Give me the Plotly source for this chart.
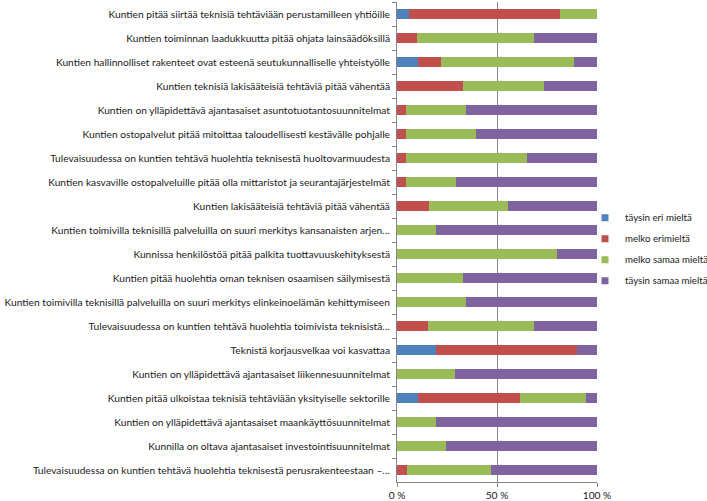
import plotly.graph_objects as go

categories = [
    "Kuntien pitää siirtää teknisiä tehtäviään perustamilleen yhtiöille",
    "Kuntien toiminnan laadukkuutta pitää ohjata lainsäädöksillä",
    "Kuntien hallinnolliset rakenteet ovat esteenä seutukunnalliselle yhteistyölle",
    "Kuntien teknisiä lakisääteisiä tehtäviä pitää vähentää",
    "Kuntien on ylläpidettävä ajantasaiset asuntotuotantosuunnitelmat",
    "Kuntien ostopalvelut pitää mitoittaa taloudellisesti kestävälle pohjalle",
    "Tulevaisuudessa on kuntien tehtävä huolehtia teknisestä huoltovarmuudesta",
    "Kuntien kasvaville ostopalveluille pitää olla mittaristot ja seurantajärjestelmät",
    "Kuntien lakisääteisiä tehtäviä pitää vähentää",
    "Kuntien toimivilla teknisillä palveluilla on suuri merkitys kansanaisten arjen…",
    "Kunnissa henkilöstöä pitää palkita tuottavuuskehityksestä",
    "Kuntien pitää huolehtia oman teknisen osaamisen säilymisestä",
    "Kuntien toimivilla teknisillä palveluilla on suuri merkitys elinkeinoelämän kehittymiseen",
    "Tulevaisuudessa on kuntien tehtävä huolehtia toimivista teknisistä…",
    "Teknistä korjausvelkaa voi kasvattaa",
    "Kuntien on ylläpidettävä ajantasaiset liikennesuunnitelmat",
    "Kuntien pitää ulkoistaa teknisiä tehtäviään yksityiselle sektorille",
    "Kuntien on ylläpidettävä ajantasaiset maankäyttösuunnitelmat",
    "Kunnilla on oltava ajantasaiset investointisuunnitelmat",
    "Tulevaisuudessa on kuntien tehtävä huolehtia teknisestä perusrakenteestaan –…",
]

taysin_eri = [6.2, 0, 10.5, 0, 0, 0, 0, 0, 0, 0, 0, 0, 0, 0, 19.7, 0, 10.5, 0, 0, 0]
melko_eri = [75.1, 10.0, 11.7, 33.2, 4.7, 4.7, 4.7, 4.7, 16.2, 0, 0, 0, 0, 15.7, 70.1, 0, 50.8, 0, 0, 5.2]
melko_samaa = [18.7, 58.3, 66.4, 40.1, 30.0, 35.0, 60.1, 25.0, 39.1, 19.7, 79.8, 33.2, 34.7, 52.6, 0, 29.2, 33.0, 19.7, 24.7, 42.0]
taysin_samaa = [0, 31.7, 11.4, 26.7, 65.3, 60.3, 35.2, 70.3, 44.7, 80.3, 20.2, 66.8, 65.3, 31.7, 10.2, 70.8, 5.7, 80.3, 75.3, 52.8]

series_names = ["täysin eri mieltä", "melko erimieltä", "melko samaa mieltä", "täysin samaa mieltä"]
series_values = [taysin_eri, melko_eri, melko_samaa, taysin_samaa]
colors = ["#4F81BD", "#C0504D", "#9BBB59", "#8064A2"]

x_tickvals = [0, 50, 100]
x_ticktext = ["0 %", "50 %", "100 %"]

FONT = "Lato"
TXT = "#1a1a1a"
FS = 10.2
LFS = 9.7

fig = go.Figure()
for name, vals, col in zip(series_names, series_values, colors):
    fig.add_trace(go.Bar(
        y=categories, x=vals, orientation="h", name=name,
        marker=dict(color=col, line=dict(width=0)),
        showlegend=False, legendgroup=name,
    ))
for name, col in zip(series_names, colors):
    fig.add_trace(go.Scatter(
        x=[None], y=[None], mode="markers", name=name, legendgroup=name,
        marker=dict(symbol="square", size=7, color=col),
        showlegend=True, hoverinfo="skip",
    ))

fig.update_layout(
    width=707, height=501,
    margin=dict(l=397, r=110, t=2, b=19, autoexpand=False),
    barmode="stack", bargap=0.58,
    plot_bgcolor="white", paper_bgcolor="white",
    font=dict(family=FONT, size=FS, color=TXT),
    legend=dict(
        x=1.585, xanchor="right", y=0.485, yanchor="middle",
        traceorder="grouped", tracegroupgap=2,
        font=dict(size=LFS, color=TXT),
        bgcolor="rgba(0,0,0,0)", itemwidth=30,
    ),
    xaxis=dict(
        range=[0, 100], tickvals=x_tickvals, ticktext=x_ticktext,
        showgrid=True, gridcolor="#868686", gridwidth=1,
        showline=True, linecolor="#868686", linewidth=1,
        ticks="outside", ticklen=4, tickcolor="#868686",
        zeroline=False, fixedrange=True, automargin=False,
    ),
    yaxis=dict(
        type="category", categoryorder="array", categoryarray=categories,
        autorange="reversed", automargin=False,
        showline=True, linecolor="#868686", linewidth=1,
        ticks="outside", ticklen=4, tickcolor="#868686", tickson="boundaries",
        showgrid=False, ticklabelstandoff=4,
    ),
)

fig.write_html("out.html", post_script="document.body.style.margin='0';",
               config={"displayModeBar": False})
